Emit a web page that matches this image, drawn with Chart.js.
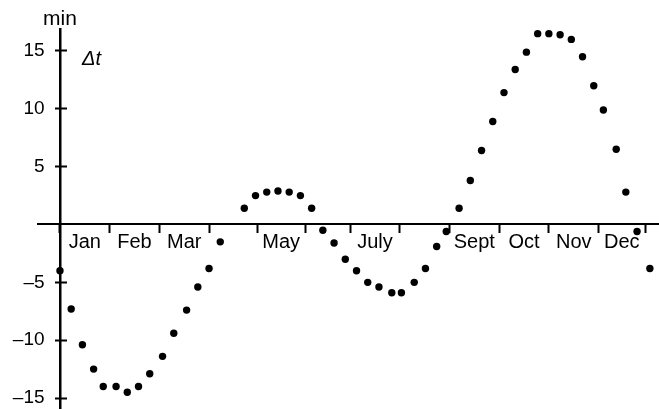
<!DOCTYPE html>
<html>
<head>
<meta charset="utf-8">
<script src="https://cdn.jsdelivr.net/npm/chart.js@4"></script>
<style>
  html, body { margin: 0; padding: 0; background: #fff; }
  #wrap { width: 659px; height: 409px; }
</style>
</head>
<body>
<div id="wrap"><canvas id="eqChart"></canvas></div>
<script>
// equation of time, one dot about every week (day of year)
const days = [0, 7, 14, 21, 27, 35, 42, 49, 56, 64, 71, 79, 86, 93, 100,
  115, 122, 129, 136, 143, 150, 157, 164, 171, 178, 185, 192, 199, 207, 213,
  221, 228, 235, 241, 249, 256, 263, 270, 277, 284, 291, 298, 305, 312, 319,
  326, 333, 339, 347, 353, 360, 368];
const deltaT = [-4.0, -7.3, -10.4, -12.5, -14.0, -14.0, -14.5, -14.0, -12.9, -11.4, -9.4, -7.4, -5.4, -3.8, -1.5,
  1.4, 2.5, 2.8, 2.9, 2.8, 2.5, 1.4, -0.5, -1.6, -3.0, -4.0, -5.0, -5.4, -5.9, -5.9,
  -5.0, -3.8, -1.9, -0.6, 1.4, 3.8, 6.4, 8.9, 11.4, 13.4, 14.9, 16.5, 16.5, 16.4, 16.0,
  14.5, 12.0, 9.9, 6.5, 2.8, -0.6, -3.8];

const monthStarts = [0, 31, 62, 93, 123, 153, 181, 212, 243, 274, 305, 336, 365];
const monthLabels = ['Jan', 'Feb', 'Mar', '', 'May', '', 'July', '', 'Sept', 'Oct', 'Nov', 'Dec'];
const yTicks = [-15, -10, -5, 5, 10, 15];

const FONT = '"Liberation Sans", Arial, Helvetica, sans-serif';
Chart.defaults.font.family = FONT;
Chart.defaults.color = '#000';

const monthMids = [];
for (let i = 0; i < monthStarts.length - 1; i++) {
  monthMids.push((monthStarts[i] + monthStarts[i + 1]) / 2);
}

const points = days.map((d, i) => ({x: d, y: deltaT[i]}));

function noPad(scale) {
  scale.paddingTop = 0;
  scale.paddingBottom = 0;
  scale.paddingLeft = 0;
  scale.paddingRight = 0;
}

const axisText = {
  id: 'axisText',
  afterDraw(chart) {
    const ctx = chart.ctx;
    const x0 = chart.scales.x.getPixelForValue(0);
    ctx.save();
    ctx.fillStyle = '#000';
    ctx.font = '21px ' + FONT;
    ctx.textAlign = 'center';
    ctx.fillText('min', x0, 25);
    ctx.font = 'italic 20px ' + FONT;
    ctx.textAlign = 'left';
    ctx.fillText('\u0394t', x0 + 22, 65);
    ctx.restore();
  }
};

const X_MIN = -13.7, X_MAX = 373.7;
const Y_MIN = -15.95, Y_MAX = 16.9;

const ctx = document.getElementById('eqChart').getContext('2d');
const myChart = new Chart(ctx, {
  type: 'scatter',
  data: {
    datasets: [{
      label: '\u0394t',
      data: points,
      backgroundColor: '#000',
      borderWidth: 0,
      pointRadius: 3.7,
      pointHoverRadius: 3.7
    }]
  },
  options: {
    responsive: true,
    maintainAspectRatio: false,
    animation: false,
    layout: { autoPadding: false, padding: { top: 29, left: 38, right: 0, bottom: 0 } },
    plugins: {
      legend: { display: false },
      tooltip: { enabled: false }
    },
    scales: {
      x: {
        type: 'linear',
        min: X_MIN,
        max: X_MAX,
        position: { y: 0 },
        afterBuildTicks: (axis) => { axis.ticks = monthStarts.map(v => ({value: v})); },
        afterFit: noPad,
        ticks: { display: false },
        grid: { drawOnChartArea: false, drawTicks: true, tickLength: 8, tickWidth: 2, color: '#000' },
        border: { display: true, width: 2, color: '#000' }
      },
      x2: {
        type: 'linear',
        min: X_MIN,
        max: X_MAX,
        position: { y: 0 },
        afterBuildTicks: (axis) => { axis.ticks = monthMids.map(v => ({value: v})); },
        afterFit: noPad,
        ticks: {
          autoSkip: false,
          maxRotation: 0,
          padding: 6,
          font: { size: 20 },
          callback: (v, i) => monthLabels[i]
        },
        grid: { display: false, drawTicks: false },
        border: { display: false }
      },
      y: {
        type: 'linear',
        min: Y_MIN,
        max: Y_MAX,
        position: { x: 0 },
        afterBuildTicks: (axis) => { axis.ticks = yTicks.map(v => ({value: v})); },
        afterFit: noPad,
        ticks: { display: false },
        grid: { drawOnChartArea: false, drawTicks: true, tickLength: 4, tickWidth: 2, color: '#000' },
        border: { display: true, width: 2.5, color: '#000' }
      },
      y2: {
        type: 'linear',
        min: Y_MIN,
        max: Y_MAX,
        position: { x: 0 },
        afterBuildTicks: (axis) => { axis.ticks = yTicks.map(v => ({value: v})); },
        afterFit: noPad,
        ticks: { display: false },
        grid: { drawOnChartArea: false, drawTicks: true, tickLength: -7, tickWidth: 2, color: '#000' },
        border: { display: false }
      },
      // tick labels only, set a little left of the axis line
      yLab: {
        type: 'linear',
        min: Y_MIN,
        max: Y_MAX,
        position: { x: -9.6 },
        afterBuildTicks: (axis) => { axis.ticks = yTicks.map(v => ({value: v})); },
        afterFit: noPad,
        ticks: {
          font: { size: 19 },
          callback: (v) => v < 0 ? '\u2013' + Math.abs(v) : String(v)
        },
        grid: { display: false, drawTicks: false },
        border: { display: false }
      }
    }
  },
  plugins: [axisText]
});
</script>
</body>
</html>
